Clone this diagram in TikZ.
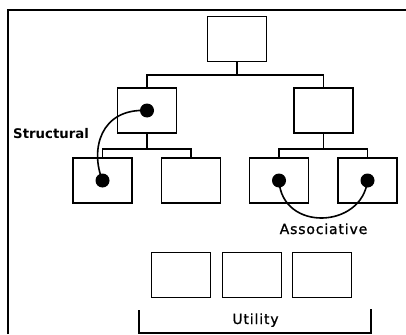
\documentclass[tikz,border=0pt]{standalone}
\usepackage{fontspec}
\newfontfamily\lblfont[LetterSpace=6,FakeBold=1.2]{DejaVu Sans}
\newfontfamily\lblbold{DejaVu Sans}
\usepackage{tikz}

\begin{document}
\begin{tikzpicture}[x=1pt, y=-1pt,
    box/.style = {draw, line width=1.2pt, minimum width=59pt, minimum height=45pt, inner sep=0pt},
    dot/.style = {circle, fill=black, minimum size=14pt, inner sep=0pt},
    link/.style = {line width=1.2pt},
    arc/.style = {line width=1.6pt},
    lbl/.style = {font=\lblfont\fontsize{14}{16}\selectfont, inner sep=0pt}]
            \useasboundingbox (0,0) rectangle (406,334);
            %\draw [step = 10pt, help lines] (0,0) grid (406,334);
            \draw [line width=2pt] (7.5,334) -- (7.5,10.3) -- (406,10.3);

            % class tree
            \node [box] (top) at (237,39) {};
            \node [box] (left) at (147,110.5) {};
            \node [box] (right) at (323.5,110.5) {};
            \node [box] (leafa) at (102.5,180.5) {};
            \node [box] (leafb) at (191,180.5) {};
            \node [box] (leafc) at (279,180.5) {};
            \node [box] (leafd) at (367.5,180.5) {};

            \coordinate (jtop) at (237,75);
            \coordinate (jleft) at (147,149);
            \coordinate (jright) at (323.5,149);

            \draw [link] (top.south) -- (jtop);
            \draw [link] (left.north) |- (jtop) -| (right.north);
            \draw [link] (left.south) -- (jleft);
            \draw [link] (leafa.north) |- (jleft) -| (leafb.north);
            \draw [link] (right.south) -- (jright);
            \draw [link] (leafc.north) |- (jright) -| (leafd.north);

            % relationships
            \node [dot] (dleft) at (left.center) {};
            \node [dot] (dleafa) at (leafa.center) {};
            \node [dot] (dleafc) at (leafc.center) {};
            \node [dot] (dleafd) at (leafd.center) {};

            \draw [arc] (dleft.center) .. controls (100,108) and (90,150) .. (dleafa.center);
            \draw [arc] (dleafc.center) .. controls (282,232) and (362,229) .. (dleafd.center);

            \node [lbl, font=\lblbold\bfseries\fontsize{13.3}{16}\selectfont, anchor=base west] (structural) at (13,138) {Structural};
            \node [lbl, anchor=base west] (associative) at (279.5,234) {Associative};

            % utility classes
            \node [box] (utila) at (181,275) {};
            \node [box] (utilb) at (252,275) {};
            \node [box] (utilc) at (322,275) {};

            \coordinate (bl) at (139,310);
            \coordinate (br) at (371,309);
            \draw [line width=2pt] (bl) |- (br |- 0,333) -- (br);
            \node [lbl, anchor=base] (utility) at (255.5,324) {Utility};
        \end{tikzpicture}
\end{document}
